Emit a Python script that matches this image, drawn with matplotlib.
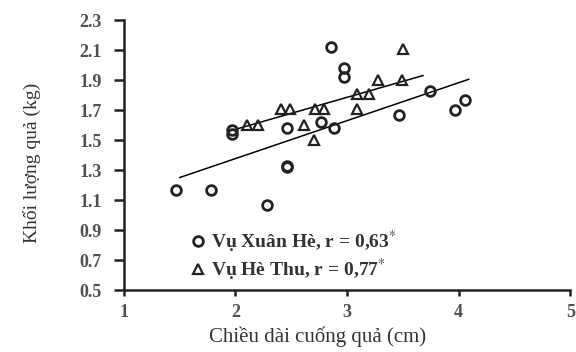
import matplotlib
matplotlib.use('Agg')
import matplotlib.pyplot as plt

# Vu Xuan He (circles)
xuan_he_x = [1.47, 1.78, 2.28, 1.97, 1.97, 2.46, 2.46, 2.46, 2.77, 2.88,
             2.86, 2.97, 2.97, 3.47, 3.74, 3.97, 4.06]
xuan_he_y = [1.17, 1.17, 1.07, 1.57, 1.54, 1.33, 1.32, 1.58, 1.62, 1.58,
             2.12, 1.98, 1.92, 1.67, 1.83, 1.70, 1.77]

# Vu He Thu (triangles)
he_thu_x = [2.10, 2.20, 2.41, 2.49, 2.61, 2.70, 2.71, 2.79, 3.09, 3.09,
            3.20, 3.28, 3.49, 3.50]
he_thu_y = [1.60, 1.60, 1.71, 1.71, 1.60, 1.50, 1.71, 1.71, 1.71, 1.81,
            1.81, 1.90, 1.90, 2.11]

# trend lines
xh_fit_x = [1.50, 4.09]
xh_fit_y = [1.25, 1.905]
ht_fit_x = [1.97, 3.68]
ht_fit_y = [1.565, 1.93]

labels = ['Vụ Xuân Hè, r = 0,63$^{*}$', 'Vụ Hè Thu, r = 0,77$^{*}$']
xticks = [1, 2, 3, 4, 5]
yticks = [0.5, 0.7, 0.9, 1.1, 1.3, 1.5, 1.7, 1.9, 2.1, 2.3]

plt.rcParams['font.family'] = ['Liberation Serif', 'DejaVu Serif']
plt.rcParams['mathtext.fontset'] = 'stix'

fig = plt.figure(figsize=(5.76, 3.52), dpi=100)
ax = fig.add_axes([0.215, 0.176, 0.775, 0.767])

ax.plot(xh_fit_x, xh_fit_y, 'k-', lw=1.1, zorder=1)
ax.plot(ht_fit_x, ht_fit_y, 'k-', lw=1.1, zorder=1)
p1, = ax.plot(xuan_he_x, xuan_he_y, 'o', ms=7, mfc='none', mec='#222222',
              mew=2.0, zorder=2)
p2, = ax.plot(he_thu_x, he_thu_y, '^', ms=7.5, mfc='none', mec='#222222',
              mew=1.6, zorder=2)

ax.set_xlim(1, 5)
ax.set_ylim(0.5, 2.3)
ax.set_xticks(xticks)
ax.set_yticks(yticks)
ax.set_xticklabels([str(t) for t in xticks])
ax.set_yticklabels(['{:.1f}'.format(t) for t in yticks])

for s in ['top', 'right']:
    ax.spines[s].set_visible(False)
for s in ['left', 'bottom']:
    ax.spines[s].set_linewidth(1.8)
    ax.spines[s].set_color('#222222')

ax.tick_params(axis='y', direction='out', length=7, width=1.8, color='#222222',
               labelsize=13, labelcolor='#505050', pad=9)
ax.tick_params(axis='x', direction='out', length=4, width=1.8, color='#222222',
               labelsize=13, labelcolor='#505050', pad=6)
for lab in ax.get_xticklabels() + ax.get_yticklabels():
    lab.set_fontweight('bold')

ax.set_xlabel('Chiều dài cuống quả (cm)', fontsize=15, color='#333333')
ax.xaxis.set_label_coords(0.435, -0.135)
ax.set_ylabel('Khối lượng quả (kg)', fontsize=14, color='#333333')
ax.yaxis.set_label_coords(-0.185, 0.47)

leg = ax.legend([p1, p2], labels, loc='lower left', bbox_to_anchor=(0.13, -0.01),
                frameon=False, numpoints=1, handlelength=0.7, handletextpad=0.3,
                labelspacing=0.1, borderpad=0,
                prop={'size': 14, 'weight': 'bold'})
for t in leg.get_texts():
    t.set_color('#333333')

fig.savefig('out.png', dpi=100)
